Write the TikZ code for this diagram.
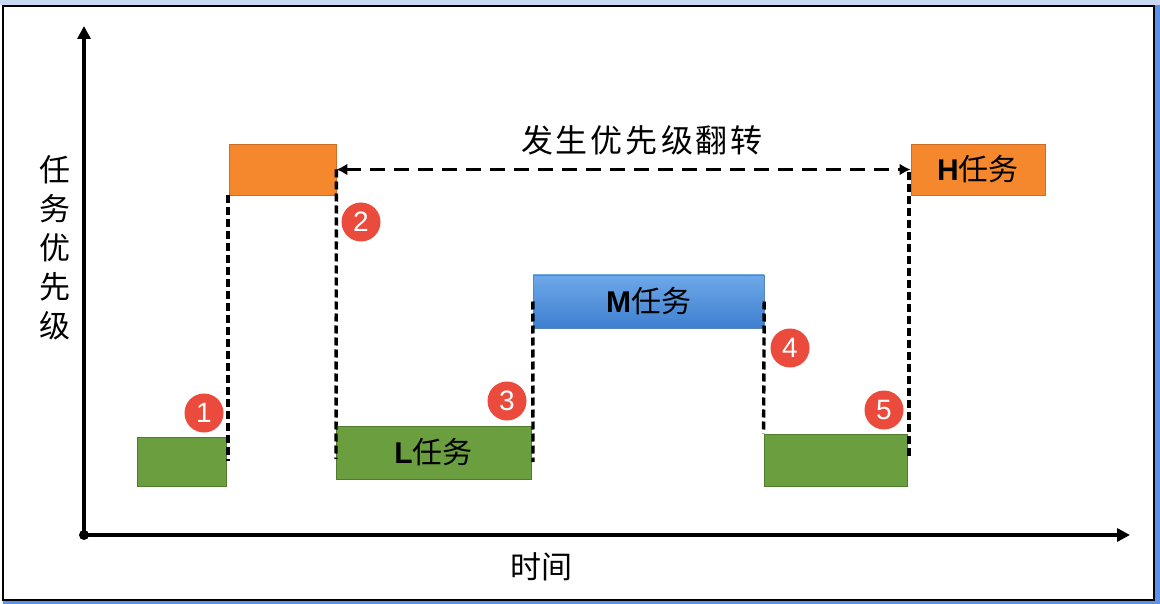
\documentclass[tikz,border=0pt]{standalone}
\usepackage{fontspec}
\newfontfamily\cjk{Noto Sans CJK SC}
\newfontfamily\lat{Liberation Sans}
\usetikzlibrary{arrows.meta}
\definecolor{edgeblue}{RGB}{91,147,234}
\definecolor{topblue}{RGB}{201,217,242}
\definecolor{tgreen}{RGB}{106,158,62}
\definecolor{tgreenD}{RGB}{80,125,45}
\definecolor{torange}{RGB}{245,135,45}
\definecolor{torangeD}{RGB}{205,110,40}
\definecolor{mblueT}{RGB}{110,168,232}
\definecolor{mblueB}{RGB}{62,127,207}
\definecolor{numred}{RGB}{234,75,60}
\tikzset{
  axis/.style={line width=3.6pt,-{Triangle[length=13pt,width=13pt]}},
  taskbox/.style={rectangle, inner sep=0pt, line width=0.8pt, font=\fontsize{30}{36}\selectfont},
  greenbox/.style={taskbox, fill=tgreen, draw=tgreenD},
  orangebox/.style={taskbox, fill=torange, draw=torangeD},
  bluebox/.style={taskbox, top color=mblueT, bottom color=mblueB, draw=mblueT!80!black, line width=0.4pt},
  dline/.style={line width=3.4pt, dash pattern=on 8pt off 4pt},
  darrow/.style={line width=3.4pt, dash pattern=on 15pt off 9pt, {Latex[length=11pt,width=12pt]}-{Latex[length=11pt,width=12pt]}},
  num/.style={circle, fill=numred, minimum size=39pt, inner sep=0pt, text=white, font=\lat\fontsize{28}{32}\selectfont},
  lab/.style={font=\cjk\fontsize{31}{36}\selectfont},
}
\begin{document}
\begin{tikzpicture}[x=1pt,y=-1pt]
\useasboundingbox (0,0) rectangle (1160,604);
% frame
\fill[edgeblue] (0,0) rectangle (1160,604);
\fill[topblue] (0,0) rectangle (1160,5);
\fill[white] (0,5) rectangle (3,604);
\draw[line width=2.5pt, fill=white] (3,6) rectangle (1154,600);
% axes
\coordinate (O) at (84,535);
\coordinate (ytop) at (84,26);
\coordinate (xend) at (1130,535);
\draw[axis] (O) -- (ytop);
\draw[axis] (O) -- (xend);
\fill (O) circle (5);
% axis labels
\node[align=center, font=\cjk\fontsize{31}{39}\selectfont] (ylab) at (55,248) {任\\务\\优\\先\\级};
\node[lab] (xlab) at (541,567) {时间};
% boxes
\node[greenbox, minimum width=89pt, minimum height=49pt] (g1) at (181.5,461.5) {};
\node[orangebox, minimum width=107pt, minimum height=51pt] (Ob) at (282.5,169.5) {};
\node[greenbox, minimum width=195pt, minimum height=53pt] (L) at (433.5,452.5) {{\lat\bfseries L}{\cjk 任务}};
\node[bluebox, minimum width=231pt, minimum height=53pt] (M) at (648.5,301.5) {{\lat\bfseries M}{\cjk 任务}};
\node[greenbox, minimum width=143pt, minimum height=52pt] (g4) at (835.5,460) {};
\node[orangebox, minimum width=134pt, minimum height=51pt] (H) at (978,169.5) {{\lat\bfseries H}{\cjk 任务}};
% dashed connectors
\coordinate (c0) at (228,195);
\coordinate (c1) at (228,461);
\coordinate (c2) at (336,459);
\coordinate (c3) at (533,462);
\coordinate (c4) at (909,172);
\coordinate (c5) at (909,459);
\draw[dline] (c0) -- (c1);
\draw[dline] (Ob.east) -- (c2);
\draw[dline] (M.west) -- (c3);
\draw[dline] (M.east) -- (g4.north west);
\draw[dline] (c4) -- (c5);
\draw[darrow] (Ob.east) -- (H.west);
\node[font=\cjk\fontsize{32}{36}\selectfont] (inv) at (642,140) {发\hspace{3pt}生\hspace{3pt}优\hspace{3pt}先\hspace{3pt}级\hspace{3pt}翻\hspace{3pt}转};
% numbers
\node[num] (n1) at (204,413) {1};
\node[num] (n2) at (361,222) {2};
\node[num] (n3) at (507,401) {3};
\node[num] (n4) at (790,348) {4};
\node[num] (n5) at (884,410) {5};
\end{tikzpicture}
\end{document}
